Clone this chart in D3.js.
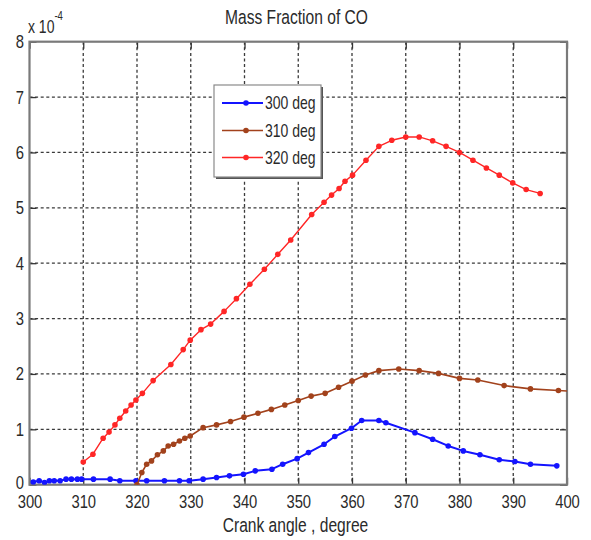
<!DOCTYPE html>
<html>
<head>
<meta charset="utf-8">
<script src="https://cdn.jsdelivr.net/npm/d3@7/dist/d3.min.js"></script>
<style>
  html, body { margin: 0; padding: 0; background: #fff; }
  svg { display: block; }
  text { font-family: "Liberation Sans", Arial, sans-serif; fill: #2a2a2a; }
</style>
</head>
<body>
<svg id="chart" width="591" height="540"></svg>
<script>
// CO mass fraction (in units of 1e-4) against crank angle, for three injection timings
const angles300 = [300.7, 301.8, 302.8, 303.7, 304.6, 305.7, 306.8, 307.8, 308.9, 309.7, 311.9, 315, 316.8, 319.8, 321.8, 325.1, 327.9, 329.7, 332.3, 334.8, 337.2, 339.8, 342, 345.1, 347.1, 349.8, 351.9, 354.8, 356.8, 359.9, 361.8, 365, 366.3, 371.7, 375, 377.9, 380.7, 383.8, 387.4, 390.3, 393.2, 398.1];
const values300 = [0.05, 0.07, 0.04, 0.07, 0.07, 0.07, 0.1, 0.1, 0.1, 0.1, 0.1, 0.1, 0.07, 0.07, 0.07, 0.07, 0.07, 0.07, 0.1, 0.13, 0.16, 0.19, 0.25, 0.28, 0.37, 0.47, 0.58, 0.73, 0.87, 1.02, 1.16, 1.16, 1.12, 0.94, 0.82, 0.70, 0.61, 0.54, 0.45, 0.42, 0.37, 0.34];

const angles310 = [320, 320.9, 321.8, 322.7, 323.8, 324.9, 325.8, 326.8, 327.9, 328.9, 329.9, 332.3, 334.8, 337.4, 339.9, 342.5, 345, 347.5, 350, 352.4, 355, 357.5, 360, 362.5, 365, 368.7, 372.5, 376.1, 380, 383.4, 388.3, 393.2, 398.4, 403];
const values310 = [0, 0.22, 0.37, 0.43, 0.54, 0.61, 0.70, 0.73, 0.79, 0.84, 0.88, 1.03, 1.08, 1.14, 1.22, 1.29, 1.36, 1.44, 1.52, 1.60, 1.65, 1.76, 1.87, 1.98, 2.06, 2.09, 2.06, 2.01, 1.92, 1.89, 1.79, 1.73, 1.70, 1.68];

const angles320 = [310, 311.8, 313.7, 314.8, 315.9, 316.8, 317.9, 318.9, 319.8, 321, 323, 326.3, 328.6, 329.9, 331.9, 333.7, 336.2, 338.5, 341, 343.7, 346.2, 348.6, 352.5, 354.8, 356.2, 357.6, 358.7, 360.1, 362.6, 365, 367.4, 370, 372.5, 375, 377.5, 380, 382.5, 385, 387.4, 389.9, 392.4, 395];
const values320 = [0.41, 0.55, 0.84, 0.95, 1.08, 1.2, 1.33, 1.44, 1.53, 1.65, 1.88, 2.17, 2.44, 2.61, 2.8, 2.9, 3.13, 3.36, 3.62, 3.89, 4.16, 4.42, 4.88, 5.1, 5.23, 5.35, 5.48, 5.59, 5.86, 6.11, 6.22, 6.28, 6.28, 6.21, 6.11, 6.0, 5.86, 5.72, 5.59, 5.45, 5.33, 5.26];

const seriesNames = ["300 deg", "310 deg", "320 deg"];
const xTicks = [300, 310, 320, 330, 340, 350, 360, 370, 380, 390, 400];
const yTicks = [0, 1, 2, 3, 4, 5, 6, 7, 8];
const exponent = "-4";
const titleText = "Mass Fraction of CO";
const xLabelText = "Crank angle , degree";

(function () {
  const series = [
    { name: seriesNames[0], x: angles300, y: values300, color: "#1414ff", width: 2 },
    { name: seriesNames[1], x: angles310, y: values310, color: "#a2421c", width: 1.6 },
    { name: seriesNames[2], x: angles320, y: values320, color: "#ff2626", width: 1.4 }
  ];

  // condensed lettering: squeeze text horizontally about its own anchor x
  const SQ = 0.8;
  function narrow(sel) {
    sel.each(function () {
      const t = d3.select(this);
      const x0 = +t.attr("x") || 0;
      t.attr("x", x0 / SQ).attr("transform", `scale(${SQ},1)`);
    });
    return sel;
  }

  const svg = d3.select("#chart");
  const pl = 29.5, pr = 567, pt = 41.7, pb = 484.7;

  const x = d3.scaleLinear().domain([300, 400]).range([pl, pr]);
  const y = d3.scaleLinear().domain([0, 8]).range([pb, pt]);

  // dotted grid
  const grid = svg.append("g").attr("stroke", "#3a3a3a").attr("stroke-width", 1.3)
    .attr("stroke-dasharray", "3,2.6");
  grid.selectAll("line.gx").data(xTicks.slice(1, -1)).join("line")
    .attr("x1", d => x(d)).attr("x2", d => x(d)).attr("y1", pt).attr("y2", pb);
  grid.selectAll("line.gy").data(yTicks.slice(1, -1)).join("line")
    .attr("x1", pl).attr("x2", pr).attr("y1", d => y(d)).attr("y2", d => y(d));

  // axes with inward ticks on all four sides
  const tickLen = 7;
  const axB = svg.append("g").attr("transform", `translate(0,${pb})`)
    .call(d3.axisBottom(x).tickValues(xTicks).tickSizeInner(-tickLen).tickSizeOuter(0).tickPadding(10));
  const axT = svg.append("g").attr("transform", `translate(0,${pt})`)
    .call(d3.axisTop(x).tickValues(xTicks).tickSizeInner(-tickLen).tickSizeOuter(0).tickFormat(""));
  const axL = svg.append("g").attr("transform", `translate(${pl},0)`)
    .call(d3.axisLeft(y).tickValues(yTicks).tickSizeInner(-tickLen).tickSizeOuter(0).tickPadding(5.5));
  const axR = svg.append("g").attr("transform", `translate(${pr},0)`)
    .call(d3.axisRight(y).tickValues(yTicks).tickSizeInner(-tickLen).tickSizeOuter(0).tickFormat(""));
  [axB, axT, axL, axR].forEach(a => {
    a.attr("font-family", null);
    a.select(".domain").remove();
    a.selectAll(".tick line").attr("stroke", "#333").attr("stroke-width", 1.3);
    a.selectAll(".tick text").attr("font-size", 18.5).attr("fill", "#2a2a2a");
  });
  narrow(axB.selectAll(".tick text"));
  narrow(axL.selectAll(".tick text"));
  // nudge the zero label up a touch so it clears the first angle label
  axL.selectAll(".tick").filter(d => d === 0).select("text").attr("dy", "0.22em");

  // plot box
  svg.append("rect").attr("x", pl).attr("y", pt)
    .attr("width", pr - pl).attr("height", pb - pt)
    .attr("fill", "none").attr("stroke", "#7a7a7a").attr("stroke-width", 2.2);

  // data lines with dot markers
  svg.append("clipPath").attr("id", "plotclip").append("rect")
    .attr("x", pl).attr("y", pt).attr("width", pr - pl).attr("height", pb - pt);
  const plot = svg.append("g").attr("clip-path", "url(#plotclip)");
  const line = d3.line().x(d => x(d[0])).y(d => y(d[1]));
  series.forEach(s => {
    const pts = s.x.map((a, i) => [a, s.y[i]]);
    plot.append("path").datum(pts).attr("d", line)
      .attr("fill", "none").attr("stroke", s.color).attr("stroke-width", s.width)
      .attr("stroke-linejoin", "round");
    plot.selectAll(null).data(pts).join("circle")
      .attr("cx", d => x(d[0])).attr("cy", d => y(d[1])).attr("r", 2.8)
      .attr("fill", s.color);
  });

  // title, axis label and exponent
  narrow(svg.append("text").attr("x", 296.5).attr("y", 24).attr("text-anchor", "middle")
    .attr("font-size", 19.5).text(titleText));
  narrow(svg.append("text").attr("x", 295.5).attr("y", 532).attr("text-anchor", "middle")
    .attr("font-size", 19.5).text(xLabelText));
  const ex = narrow(svg.append("text").attr("x", 28).attr("y", 33).attr("font-size", 17.5));
  ex.append("tspan").text("x 10");
  ex.append("tspan").attr("font-size", 12).attr("dy", -13).text(exponent);

  // legend with drop shadow border
  const lg = { x: 214, y: 85, w: 107, h: 92 };
  svg.append("rect").attr("x", lg.x + 2).attr("y", lg.y + 2).attr("width", lg.w).attr("height", lg.h)
    .attr("fill", "#555");
  svg.append("rect").attr("x", lg.x).attr("y", lg.y).attr("width", lg.w).attr("height", lg.h)
    .attr("fill", "#fff").attr("stroke", "#8a8a8a").attr("stroke-width", 1.2);
  const rowY = [103, 130.5, 157.5];
  series.forEach((s, i) => {
    const g = svg.append("g");
    g.append("line").attr("x1", 222).attr("x2", 263).attr("y1", rowY[i]).attr("y2", rowY[i])
      .attr("stroke", s.color).attr("stroke-width", s.width);
    g.append("circle").attr("cx", 246).attr("cy", rowY[i]).attr("r", 2.8).attr("fill", s.color);
    narrow(g.append("text").attr("x", 265).attr("y", rowY[i]).attr("dy", "0.35em")
      .attr("font-size", 17.5).text(s.name));
  });
})();
</script>
</body>
</html>
